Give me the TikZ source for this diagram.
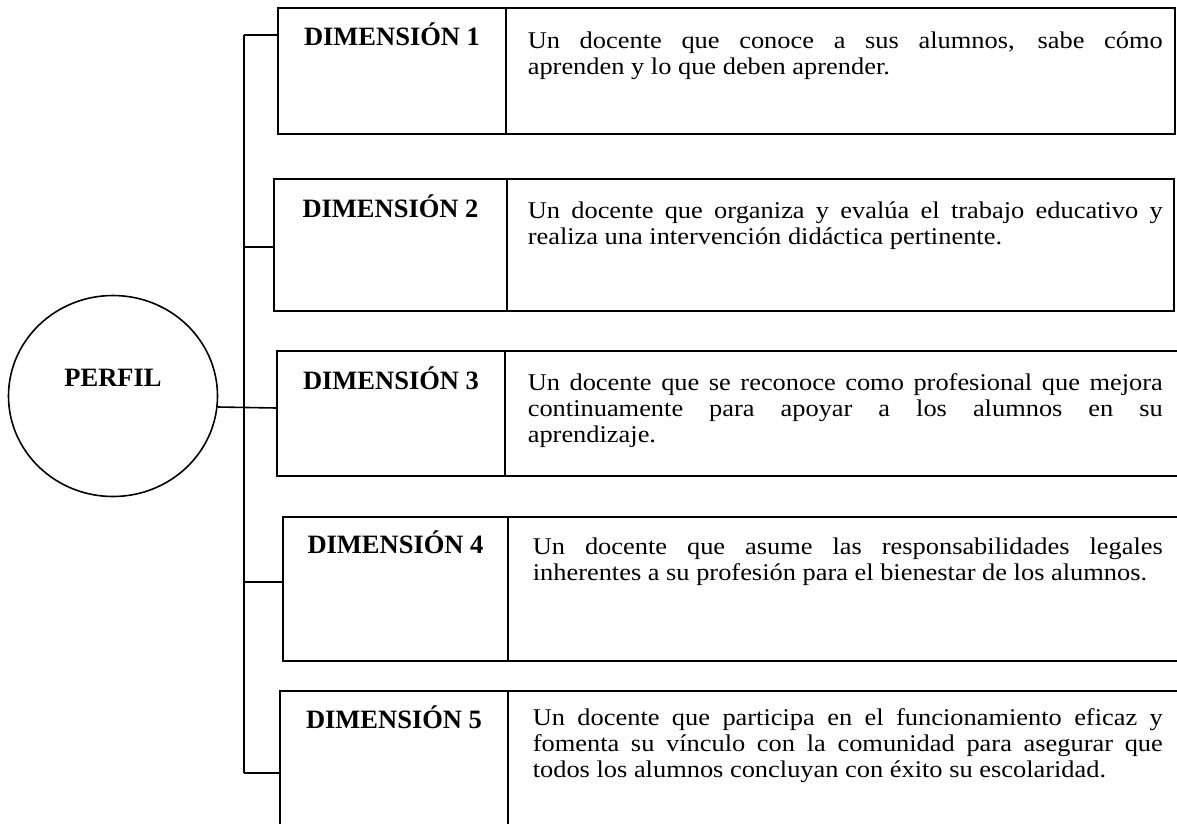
\documentclass[tikz,border=0pt]{standalone}
\usepackage{fontspec}
\setmainfont{Liberation Serif}
\newfontfamily\bodyfont[FakeStretch=1.1]{Liberation Serif}
\usetikzlibrary{shapes.geometric}
\hbadness=10000
\tolerance=10000
\begin{document}
\begin{tikzpicture}[x=1pt,y=-1pt,line width=1.6pt,
  cell/.style={draw, rectangle, inner sep=0pt, outer sep=0pt, anchor=north west},
  lab/.style={font=\fontsize{26.5}{30}\selectfont\bfseries, anchor=base, inner sep=0pt},
  body/.style={font=\bodyfont\fontsize{24}{26.3}\selectfont, anchor=base west, inner sep=0pt, align=justify},
  link/.style={draw, line width=1.6pt}]
\clip (0,0) rectangle (1177,823);
% PERFIL
\node[draw, ellipse, minimum width=209pt, minimum height=201pt, inner sep=0pt] (perfil) at (113,396) {};
\node[lab] (ptxt) at (113,386) {PERFIL};
% Box 1
\node[cell, minimum width=228pt, minimum height=126pt] (c1) at (278,8) {};
\node[cell, minimum width=669pt, minimum height=126pt] (r1) at (506,8) {};
\node[lab] (n1) at ([yshift=-37pt]c1.north) {DIMENSIÓN 1};
\node[body, text width=635pt] (d1) at ([xshift=21pt,yshift=-40pt]r1.north west)
  {Un docente que conoce a sus alumnos, sabe cómo\linebreak aprenden y lo que deben aprender.};
% Box 2
\node[cell, minimum width=233pt, minimum height=132pt] (c2) at (274,179) {};
\node[cell, minimum width=667pt, minimum height=132pt] (r2) at (507,179) {};
\node[lab] (n2) at ([yshift=-38pt]c2.north) {DIMENSIÓN 2};
\node[body, text width=635pt] (d2) at ([xshift=20pt,yshift=-39pt]r2.north west)
  {Un docente que organiza y evalúa el trabajo educativo y\linebreak realiza una intervención didáctica pertinente.};
% Box 3
\node[cell, minimum width=228pt, minimum height=125pt] (c3) at (277,351) {};
\node[cell, minimum width=690pt, minimum height=125pt] (r3) at (505,351) {};
\draw[line width=2.6pt] (r3.north west) -- (r3.south west);
\node[lab] (n3) at ([yshift=-38pt]c3.north) {DIMENSIÓN 3};
\node[body, text width=635pt] (d3) at ([xshift=22pt,yshift=-39pt]r3.north west)
  {Un docente que se reconoce como profesional que mejora\linebreak continuamente para apoyar a los alumnos en su\linebreak aprendizaje.};
% Box 4
\node[cell, minimum width=225pt, minimum height=144pt] (c4) at (283,517) {};
\node[cell, minimum width=687pt, minimum height=144pt] (r4) at (508,517) {};
\node[lab] (n4) at ([yshift=-36pt]c4.north) {DIMENSIÓN 4};
\node[body, text width=630pt] (d4) at ([xshift=24pt,yshift=-37pt]r4.north west)
  {Un docente que asume las responsabilidades legales\linebreak inherentes a su profesión para el bienestar de los alumnos.};
% Box 5
\node[cell, minimum width=228pt, minimum height=159pt] (c5) at (280,691) {};
\node[cell, minimum width=687pt, minimum height=159pt] (r5) at (508,691) {};
\node[lab] (n5) at ([yshift=-37pt]c5.north) {DIMENSIÓN 5};
\node[body, text width=630pt] (d5) at ([xshift=24pt,yshift=-34pt]r5.north west)
  {Un docente que participa en el funcionamiento eficaz y\linebreak fomenta su vínculo con la comunidad para asegurar que\linebreak todos los alumnos concluyan con éxito su escolaridad.};
% connectors
\coordinate (j1) at (244,35);
\coordinate (j2) at (244,247);
\coordinate (j3) at (244,408);
\coordinate (j4) at (244,582);
\coordinate (j5) at (244,773);
\draw[link] (j1) -- (j5);
\draw[link] (j1) -- (j1 -| c1.west);
\draw[link] (j2) -- (j2 -| c2.west);
\draw[link] (perfil.-6.6) -- (j3 -| c3.west);
\draw[link] (j4) -- (j4 -| c4.west);
\draw[link] (j5) -- (j5 -| c5.west);
\end{tikzpicture}
\end{document}
